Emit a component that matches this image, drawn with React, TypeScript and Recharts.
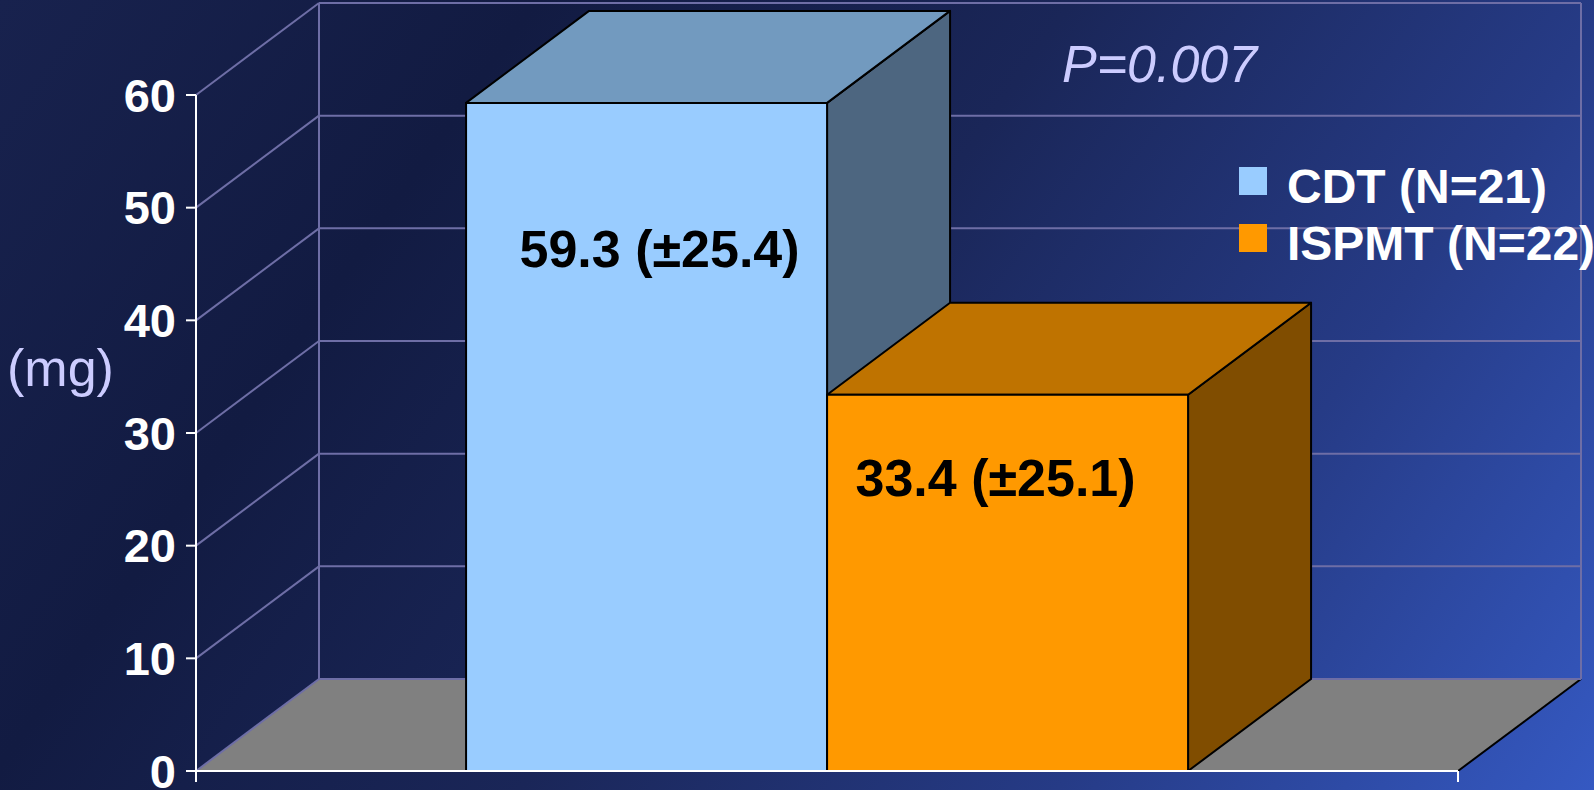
import React from "react";
import {
  BarChart,
  Bar,
  XAxis,
  YAxis,
  CartesianGrid,
  Legend,
  LabelList,
} from "recharts";

// data
const categories = [""];
const cdtMeans = [59.3];
const cdtSds = [25.4];
const ispmtMeans = [33.4];
const ispmtSds = [25.1];
const seriesNames = ["CDT (N=21)", "ISPMT (N=22)"];
const yTicks = [0, 10, 20, 30, 40, 50, 60];
const pValueText = "P=0.007";
const unitText = "(mg)";

const W = 1594;
const H = 790;
const FONT = "'Liberation Sans', Arial, Helvetica, sans-serif";
const DX = 123; // depth of the 3d box
const DY = -92;
const PLOT_BOTTOM = 771;
const PLOT_TOP = 95;
const GRID = "#6e6ea6";
const LAVENDER = "#ccccff";

const data = categories.map((name, i) => ({
  name,
  cdt: cdtMeans[i],
  ispmt: ispmtMeans[i],
  cdtSd: cdtSds[i],
  ispmtSd: ispmtSds[i],
}));

const COLORS = {
  cdt: { front: "#99ccff", top: "#729abf", side: "#4d6680" },
  ispmt: { front: "#ff9900", top: "#bf7300", side: "#804d00" },
};

function Box3D(props: any) {
  const { x, y, width, height, colors } = props;
  if (height <= 0) return null;
  const r = x + width;
  const b = y + height;
  const stroke = { stroke: "#000", strokeWidth: 2, strokeLinejoin: "round" as const };
  return (
    <g>
      <polygon
        points={`${r},${y} ${r + DX},${y + DY} ${r + DX},${b + DY} ${r},${b}`}
        fill={colors.side}
        {...stroke}
      />
      <polygon
        points={`${x},${y} ${x + DX},${y + DY} ${r + DX},${y + DY} ${r},${y}`}
        fill={colors.top}
        {...stroke}
      />
      <rect x={x} y={y} width={width} height={height} fill={colors.front} {...stroke} />
    </g>
  );
}

function GridLine(props: any) {
  const { x1, x2, y1 } = props;
  const y = y1;
  const isFloor = Math.abs(y - PLOT_BOTTOM) < 1;
  return (
    <g key={props.key}>
      {isFloor && (
        <>
          <polygon
            points={`${x1},${y} ${x2},${y} ${x2 + DX},${y + DY} ${x1 + DX},${y + DY}`}
            fill="#808080"
          />
          <line x1={x2} y1={y} x2={x2 + DX} y2={y + DY} stroke="#000" strokeWidth={2} />
          <line x1={x1 + DX} y1={y + DY} x2={x1 + DX} y2={PLOT_TOP + DY} stroke={GRID} strokeWidth={2} />
          <line x1={x2 + DX} y1={y + DY} x2={x2 + DX} y2={PLOT_TOP + DY} stroke={GRID} strokeWidth={2} />
          <line x1={x1} y1={y} x2={x1} y2={y + 11} stroke="#fff" strokeWidth={2} />
          <line x1={x2} y1={y} x2={x2} y2={y + 11} stroke="#fff" strokeWidth={2} />
        </>
      )}
      <line x1={x1} y1={y} x2={x1 + DX} y2={y + DY} stroke={GRID} strokeWidth={2} />
      <line x1={x1 + DX} y1={y + DY} x2={x2 + DX} y2={y + DY} stroke={GRID} strokeWidth={2} />
    </g>
  );
}

function makeLabel(sds: number[], dx: number, dy: number) {
  return (p: any) => {
    const box = p.viewBox && p.viewBox.width ? p.viewBox : p;
    const { x, y, width } = box;
    const sd = sds[p.index ?? 0];
    return (
      <text
        x={x + width / 2 + dx}
        y={y + dy}
        textAnchor="middle"
        fill="#000"
        fontSize={52}
        fontWeight={700}
        fontFamily={FONT}
      >
        {`${p.value} (±${sd})`}
      </text>
    );
  };
}

function LegendBox(props: any) {
  const payload = props.payload || [];
  return (
    <div style={{ fontFamily: FONT }}>
      {payload.map((entry: any, i: number) => (
        <div
          key={i}
          style={{ display: "flex", alignItems: "flex-start", height: 57, lineHeight: "57px" }}
        >
          <span
            style={{
              display: "inline-block",
              width: 28,
              height: 28,
              marginTop: 9,
              marginRight: 20,
              background: entry.color,
            }}
          />
          <span style={{ color: "#fff", fontSize: 48, fontWeight: 700, whiteSpace: "nowrap" }}>
            {entry.value}
          </span>
        </div>
      ))}
    </div>
  );
}

export default function App() {
  return (
    <div
      style={{
        position: "absolute",
        left: 0,
        top: 0,
        width: W,
        height: H,
        overflow: "hidden",
        background:
          "linear-gradient(125deg, #18224e 0%, #121b42 25%, #1a2658 50%, #263b86 75%, #3559c2 100%)",
      }}
    >
      <BarChart
        width={W}
        height={H}
        data={data}
        margin={{ top: PLOT_TOP, right: 136, bottom: 0, left: 0 }}
        barCategoryGap="21.4%"
        barGap={0}
      >
        <CartesianGrid vertical={false} horizontal={(p: any) => <GridLine {...p} />} />
        <XAxis
          dataKey="name"
          height={19}
          tick={false}
          tickLine={false}
          axisLine={{ stroke: "#fff", strokeWidth: 2 }}
        />
        <YAxis
          width={196}
          domain={[0, 60]}
          ticks={yTicks}
          interval={0}
          tickSize={10}
          tickMargin={10}
          axisLine={{ stroke: "#fff", strokeWidth: 2 }}
          tickLine={{ stroke: "#fff", strokeWidth: 2 }}
          tick={{ fill: "#fff", fontSize: 47, fontWeight: 700, fontFamily: FONT }}
        />
        <Legend
          layout="vertical"
          align="center"
          verticalAlign="middle"
          wrapperStyle={{ left: 1239, top: 158, width: 360 }}
          content={<LegendBox />}
        />
        <Bar
          dataKey="cdt"
          name={seriesNames[0]}
          fill={COLORS.cdt.front}
          isAnimationActive={false}
          shape={(p: any) => <Box3D {...p} colors={COLORS.cdt} />}
        >
          <LabelList dataKey="cdt" content={makeLabel(cdtSds, 13, 164)} />
        </Bar>
        <Bar
          dataKey="ispmt"
          name={seriesNames[1]}
          fill={COLORS.ispmt.front}
          isAnimationActive={false}
          shape={(p: any) => <Box3D {...p} colors={COLORS.ispmt} />}
        >
          <LabelList dataKey="ispmt" content={makeLabel(ispmtSds, -12, 101)} />
        </Bar>
      </BarChart>
      <svg
        width={W}
        height={H}
        style={{ position: "absolute", left: 0, top: 0, pointerEvents: "none" }}
      >
        <text x={7} y={386} fill={LAVENDER} fontSize={52} fontFamily={FONT}>
          {unitText}
        </text>
        <text x={1062} y={82} fill={LAVENDER} fontSize={52} fontStyle="italic" fontFamily={FONT}>
          {pValueText}
        </text>
      </svg>
    </div>
  );
}
